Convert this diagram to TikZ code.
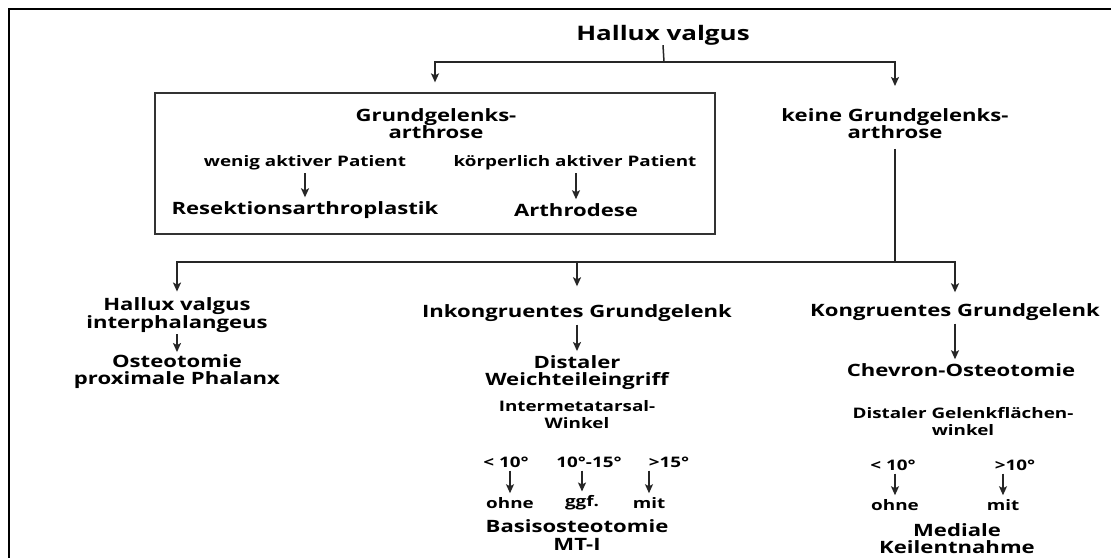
\documentclass[tikz,border=0pt]{standalone}
\usepackage{fontspec}
\setmainfont{Open Sans}[FakeStretch=1.3]
\usetikzlibrary{arrows.meta}
\begin{document}
\begin{tikzpicture}[x=1pt,y=-1pt,
  head/.style={font=\fontsize{17}{17.5}\selectfont\bfseries, align=center, inner sep=0pt},
  lab/.style={font=\fontsize{14.5}{17}\selectfont\bfseries, align=center, inner sep=0pt},
  title/.style={font=\fontsize{20}{22}\selectfont\bfseries, inner sep=0pt},
  conn/.style={line width=1.5pt, draw=black!85},
  arr/.style={conn, -{Stealth[length=9pt,width=8pt,inset=2pt]}},
  sarr/.style={arr, shorten <=3pt, shorten >=4pt},
]
\useasboundingbox (0,0) rectangle (1111,557);
\fill[white] (0,0) rectangle (1111,557);
\draw[line width=2.7pt, line cap=rect] (9,557) -- (9,9) -- (1111,9);

% top level
\node[title] (hv) at (663,35) {Hallux valgus};
\node[draw=black!80, line width=1.3pt, minimum width=560pt, minimum height=141pt, inner sep=0pt] (box) at (435,163.5) {};
\node[head] (gga) at (436,123.5) {Grundgelenks-\\arthrose};
\node[lab] (wap) at (305,163) {wenig aktiver Patient};
\node[head] (res) at (305,210) {Resektionsarthroplastik};
\node[lab] (kap) at (575,163) {körperlich aktiver Patient};
\node[head] (ard) at (576,210) {Arthrodese};
\node[head] (keine) at (895,123.5) {keine Grundgelenks-\\arthrose};

\coordinate (j1) at (664,62);
\coordinate (j2) at (895,262);
\draw[conn] (hv.south) -- (j1);
\draw[arr, shorten >=10pt] (j1) -| (box.north);
\draw[arr, shorten >=22pt] (j1) -| (keine.north);
\draw[sarr] (wap.south) -- (wap.south |- res.north);
\draw[sarr] (kap.south -| ard.north) -- (ard.north);

\draw[conn, shorten <=10pt] (keine.south) -- (j2);

% second level
\node[head] (hvi) at (177,315) {Hallux valgus\\interphalangeus};
\node[head] (ost) at (177,371.5) {Osteotomie\\proximale Phalanx};
\node[head] (inko) at (577,313) {Inkongruentes Grundgelenk};
\node[head] (dist) at (577,372.5) {Distaler\\Weichteileingriff};
\node[lab] (imw) at (577,415) {Intermetatarsal-\\Winkel};
\node[lab] (a1) at (506,462) {< 10°};
\node[lab] (a2) at (589,462) {10°-15°};
\node[lab] (a3) at (669,462) {>15°};
\node[lab] (o1) at (510,503) {ohne};
\node[lab] (o2) at (582,503) {ggf.};
\node[lab] (o3) at (649,503) {mit};
\node[head] (bas) at (577,535) {Basisosteotomie\\MT-I};

\node[head] (kong) at (955,312) {Kongruentes Grundgelenk};
\node[head] (chev) at (961,370) {Chevron-Osteotomie};
\node[lab] (dgw) at (963,421.5) {Distaler Gelenkflächen-\\winkel};
\node[lab] (b1) at (893,465) {< 10°};
\node[lab] (b2) at (1015,465) {>10°};
\node[lab] (p1) at (895,505) {ohne};
\node[lab] (p2) at (1003,505) {mit};
\node[head] (med) at (957,538.5) {Mediale\\Keilentnahme};

\draw[arr, shorten >=6pt] (j2) -| (hvi.north);
\draw[arr, shorten >=18pt] (j2) -| (inko.north);
\draw[arr, shorten >=11pt] (j2) -| (kong.north);

\draw[arr, shorten <=2pt, shorten >=2pt] (hvi.south) -- (hvi.south |- ost.north);
\draw[sarr] (inko.south) -- (inko.south |- dist.north);
\draw[sarr] (kong.south) -- (kong.south |- chev.north);
\draw[sarr] (o1.north |- a1.south) -- (o1.north);
\draw[sarr] (o2.north |- a2.south) -- (o2.north);
\draw[sarr] (o3.north |- a3.south) -- (o3.north);
\draw[sarr] (p1.north |- b1.south) -- (p1.north);
\draw[sarr] (p2.north |- b2.south) -- (p2.north);
\end{tikzpicture}
\end{document}
